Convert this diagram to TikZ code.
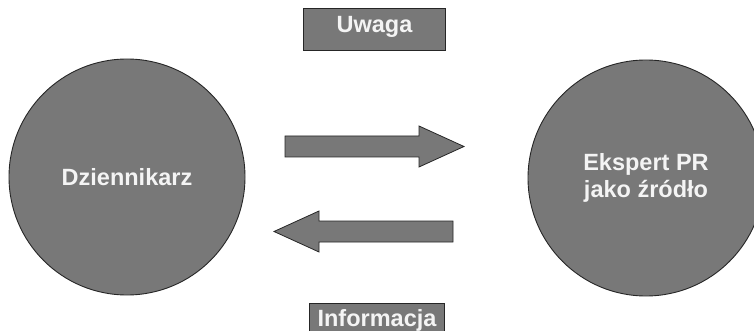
\documentclass[tikz,border=0pt]{standalone}
\usepackage{fontspec}
\setmainfont{Liberation Sans}
\definecolor{fillgray}{HTML}{787878}
\definecolor{edgegray}{HTML}{262626}
\definecolor{txtwhite}{HTML}{F4F4F4}
\begin{document}
\begin{tikzpicture}[x=1pt,y=-1pt,
  party/.style={circle, draw=edgegray, line width=0.9pt, fill=fillgray, minimum size=236pt, inner sep=0pt,
    text=txtwhite, font=\fontsize{23.5}{27}\selectfont\bfseries, align=center},
  tagbox/.style={draw=edgegray, line width=0.9pt, fill=fillgray, text=txtwhite,
    font=\fontsize{23.5}{27}\selectfont\bfseries, inner sep=0pt},
  flow/.style={draw=edgegray, line width=0.8pt, fill=fillgray}]
\useasboundingbox (0,0) rectangle (754,331);
\begin{scope}
\clip (0,0) rectangle (754,331);
\node[party] (dz) at (127,177) {Dziennikarz};
\node[party] (ek) at (646,178) {Ekspert PR\\ jako źródło};
\node[tagbox, minimum width=142pt, minimum height=42pt] (uw) at (374,29) {};
\node[text=txtwhite, font=\fontsize{23.5}{27}\selectfont\bfseries, anchor=base] (uwt) at (374.5,33) {Uwaga};
\node[tagbox, minimum width=135pt, minimum height=40pt] (inf) at (376.5,323) {};
\node[text=txtwhite, font=\fontsize{23.5}{27}\selectfont\bfseries, anchor=base] (inft) at (377,326) {Informacja};
\draw[flow] (285,136) -- (419,136) -- (419,126) -- (464,146.5) -- (419,167) -- (419,157) -- (285,157) -- cycle;
\draw[flow] (453,221) -- (319,221) -- (319,211) -- (274,231.5) -- (319,252) -- (319,242) -- (453,242) -- cycle;
\end{scope}
\end{tikzpicture}
\end{document}
